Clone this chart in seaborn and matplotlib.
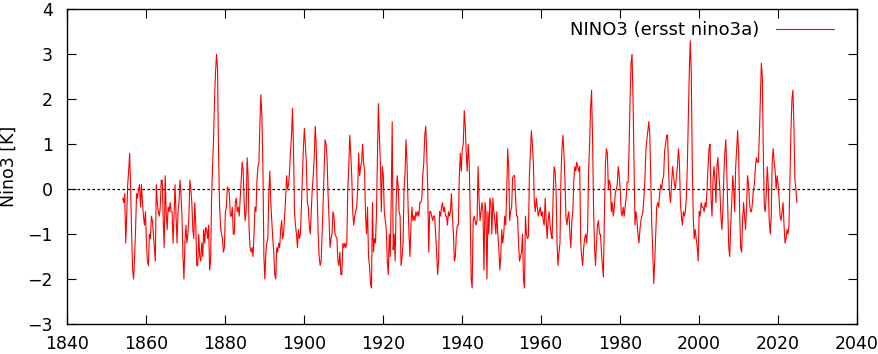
import numpy as np
import pandas as pd
import matplotlib
matplotlib.use('Agg')
import matplotlib.pyplot as plt
import seaborn as sns

# NINO3 anomaly [K], 4 values per year, starting 1854
v1850s = [-0.2, -0.3, -0.1, -1.2,   -0.6, 0.1, 0.4, 0.8,   0.0, -1.0, -1.8, -2.0,
          -1.5, -0.9, -0.1, -0.2,   0.0, 0.1, -0.4, 0.1,   -0.3, -0.6, -0.8, -0.5]
v1860s = [-1.2, -1.6, -1.7, -1.0,   -1.1, -0.6, -0.7, -1.0,   -1.3, -1.6, 0.1, -0.3,
          -0.5, -0.6, -0.4, 0.2,    0.2, -0.7, -1.3, 0.3,     -0.5, -0.9, -0.4, -0.5,
          -0.3, -0.5, -0.5, -1.2,   -0.6, 0.1, -0.6, -1.2,    -0.5, -0.3, 0.2, -0.1,
          -0.6, -1.5, -2.0, -1.2]
v1870s = [-0.8, -1.2, -1.0, -0.6,   0.2, 0.0, -0.3, -0.9,     -1.1, -0.3, -0.8, -1.7,
          -1.7, -1.0, -1.5, -1.6,   -1.2, -1.5, -0.9, -1.2,   -0.85, -0.9, -1.1, -0.8,
          -1.8, -1.6, -0.2, 0.5,    1.1, 2.0, 2.6, 3.0,       2.7, 0.9, -0.3, -0.8,
          -1.0, -1.1, -1.4, -1.3]
v1880s = [-0.5, -0.4, 0.05, 0.0,    -0.1, -0.6, -0.6, -0.4,   -1.0, -1.0, -0.3, -0.2,
          -0.5, -0.4, -0.6, -0.2,   0.2, 0.6, 0.4, -0.3,      -0.7, -0.5, 0.7, 0.3,
          -0.9, -1.3, -1.4, -1.3,   -1.5, -1.0, -0.4, -0.5,   0.2, 0.5, 0.6, 1.5,
          2.1, 1.6, 0.5, -1.5]
v1890s = [-2.0, -1.4, -1.2, -1.1,   -0.1, 0.4, -0.3, -0.7,    -1.1, -1.4, -1.9, -2.0,
          -1.3, -1.4, -1.2, -1.3,   -0.9, -0.7, -1.1, -1.0,   -0.6, -0.2, 0.3, 0.0,
          0.1, 0.4, 0.85, 1.2,      1.8, 0.9, -0.5, -0.8,     -1.0, -1.3, -0.9, -1.1,
          -1.0, -0.4, 0.3, 0.9]
v1900s = [1.35, 1.0, 0.6, -0.3,     -0.4, -0.8, -1.0, -0.5,   0.0, 0.3, 0.7, 1.4,
          1.0, -0.1, -1.0, -1.5,    -1.7, -1.6, -1.0, -0.3,   0.4, 1.1, 1.0, 0.7,
          -0.1, -0.65, -1.3, -1.1,  -1.0, -0.5, -0.6, -1.0,   -1.05, -1.1, -1.6, -1.7,
          -1.4, -1.9, -1.9, -1.2]
v1910s = [-1.3, -1.2, -1.3, -1.2,   0.0, 0.5, 1.2, 0.8,       0.3, -0.5, -0.8, -0.6,
          -0.5, -0.4, 0.0, 0.8,     0.3, 0.5, 0.6, 1.0,       0.6, 0.4, -0.6, -1.0,
          -0.4, -1.5, -1.7, -2.1,   -2.2, -0.3, -1.4, -1.1,   -1.2, -0.6, 0.6, 1.9,
          1.2, 0.6, -0.5, 0.5]
v1920s = [0.3, -0.5, -0.7, -0.9,    -1.6, -1.9, -1.0, -1.5,   -0.2, 1.5, -1.35, -1.0,
          -1.6, -0.3, 0.3, 0.1,     -0.5, -0.6, -1.7, -1.5,   -1.2, 0.0, 0.35, 1.1,
          0.6, -0.3, -1.0, -1.5,    -0.8, -0.4, -0.7, -0.6,   -0.7, -0.5, -0.6, -0.5,
          -0.6, -0.3, -0.3, -0.2]
v1930s = [0.3, 0.6, 1.2, 1.4,       0.8, 0.0, -1.4, -0.5,     -0.5, -0.6, -0.7, -0.6,
          -0.6, -1.0, -1.4, -1.9,   -1.6, -0.5, -0.6, -0.4,   -0.3, -0.5, -0.4, -0.6,
          -0.6, -0.8, -0.5, -0.6,   -0.5, -0.1, -0.6, -1.0,   -1.6, -1.5, -1.0, -0.8,
          -0.8, 0.27, 0.8, 0.4]
v1940s = [0.9, 1.0, 1.75, 1.4,      0.8, 0.4, 1.0, 0.6,       -0.5, -2.0, -2.2, -0.7,
          -0.6, -0.7, -0.8, -0.7,   0.5, -0.2, -0.7, -0.5,    -0.3, -0.5, -1.8, -0.3,
          -0.5, -2.0, -0.5, -1.0,   -0.2, -0.3, -1.0, -0.2,   -0.5, -0.7, -1.0, -0.5,
          -1.0, -1.3, -1.8, -1.5]
v1950s = [-0.9, -1.2, -1.0, -0.6,   -0.8, -0.1, 0.9, 0.5,     -0.7, -0.5, -0.4, 0.25,
          0.3, 0.3, -0.2, -0.6,     -0.6, -1.2, -1.6, -1.5,   -1.4, -1.0, -2.0, -2.2,
          -0.6, -1.0, -1.1, -1.05,  0.3, 0.8, 1.3, 1.0,       0.6, -0.3, -0.5, -0.2,
          -0.4, -0.6, -0.5, -0.4]
v1960s = [-0.6, -0.5, -0.7, -0.8,   -0.2, -0.7, -1.1, -0.7,   -0.5, -0.8, -1.0, -1.1,
          -0.2, 0.5, 0.4, 0.0,      -1.2, -1.7, -1.4, -1.2,   0.3, 0.9, 1.2, 0.8,
          0.2, -0.6, -0.8, -0.6,    -0.5, -1.0, -1.3, -0.7,   -0.5, 0.2, 0.5, 0.4,
          0.6, 0.5, 0.4, 0.5]
v1970s = [-1.2, -1.5, -1.7, -1.3,   -1.1, -1.0, -1.2, -0.9,   0.4, 1.0, 1.8, 2.2,
          1.1, -0.4, -1.3, -1.7,    -1.2, -0.8, -0.7, -1.0,   -1.0, -1.4, -1.7, -1.95,
          -0.6, 0.55, 0.9, 0.8,     0.0, 0.2, 0.1, -0.5,      -0.3, -0.6, -0.4, -0.1,
          0.0, 0.1, 0.5, 0.3]
v1980s = [0.0, -0.5, -0.6, -0.4,    -0.6, -0.4, -0.2, 0.15,   0.15, 0.9, 2.0, 2.8,
          3.0, 2.0, 0.6, -0.8,      -0.5, -0.7, -1.0, -1.2,   -0.9, -0.7, -0.6, -0.5,
          -0.2, 0.2, 0.85, 1.1,     1.3, 1.5, 1.2, 0.2,       -0.8, -1.4, -2.1, -1.6,
          -1.0, -0.4, -0.3, -0.4]
v1990s = [-0.1, 0.1, 0.0, 0.2,      0.3, 0.85, 1.0, 1.2,      1.2, 0.4, -0.1, -0.3,
          0.1, 0.5, 0.3, 0.1,       0.0, 0.3, 0.5, 0.9,       0.6, -0.3, -0.6, -0.8,
          -0.5, -0.6, -0.5, -0.2,   0.5, 1.6, 2.6, 3.3,       2.6, 0.6, -0.6, -1.1,
          -0.9, -1.1, -1.3, -1.6]
v2000s = [-0.5, -0.6, -0.3, -0.4,   -0.4, -0.5, -0.3, -0.4,   0.0, 0.5, 0.9, 1.0,
          -0.2, -0.6, 0.2, 0.5,     0.2, -0.3, 0.5, 0.7,      0.3, 0.0, -0.6, -0.9,
          -0.5, 0.3, 0.8, 1.1,      0.4, -0.5, -1.3, -1.5,    -0.8, -0.3, 0.3, 0.0,
          -0.5, 0.5, 0.9, 1.3]
v2010s = [0.8, -0.5, -1.3, -1.4,    -0.7, -0.3, -0.6, -0.9,   -0.4, 0.3, 0.1, -0.3,
          -0.5, -0.5, -0.3, 0.0,    0.1, 0.5, 0.7, 0.6,       0.6, 1.2, 2.0, 2.8,
          2.5, 0.8, -0.4, -0.5,     -0.1, 0.5, 0.1, -0.7,     -1.0, -0.6, 0.6, 0.9,
          0.6, 0.4, 0.0, 0.3]
v2020s = [0.1, -0.2, -0.6, -0.7,    -0.5, -0.3, -0.8, -1.2,   -1.1, -0.9, -1.0, -0.8,
          0.3, 1.3, 2.0, 2.2,       1.4, 0.2, 0.0, -0.3]

first_year = 1854
nino3 = np.concatenate([v1850s, v1860s, v1870s, v1880s, v1890s, v1900s, v1910s,
                        v1920s, v1930s, v1940s, v1950s, v1960s, v1970s, v1980s,
                        v1990s, v2000s, v2010s, v2020s])
year = first_year + (np.arange(len(nino3)) + 0.5) / 4
df = pd.DataFrame({'year': year, 'nino3': nino3})

sns.set_style('ticks')
plt.rcParams['font.family'] = ['DejaVu Sans']
plt.rcParams['text.color'] = 'black'
plt.rcParams['axes.labelcolor'] = 'black'

fig = plt.figure(figsize=(8.79, 3.54), dpi=100)
ax = fig.add_axes([0.0762, 0.0847, 0.8983, 0.889])

sns.lineplot(data=df, x='year', y='nino3', color='red', lw=0.8,
             label='NINO3 (ersst nino3a)', ax=ax)
ax.axhline(0, color='black', lw=0.9, ls=(0, (2, 2)), zorder=1)

ax.set_xlim(1840, 2040)
ax.set_ylim(-3, 4)
ax.set_xticks(range(1840, 2041, 20))
ax.set_yticks(range(-3, 5))
ax.tick_params(direction='in', length=6.5, width=0.8, top=True, right=True,
               labelsize=12.5, colors='black')
ax.tick_params(axis='y', pad=10)
ax.tick_params(axis='x', pad=8)
for s in ax.spines.values():
    s.set_color('black')
    s.set_linewidth(1.0)

ax.set_xlabel('')
ax.set_ylabel('Nino3 [K]', fontsize=12.5, color='black')
ax.yaxis.set_label_coords(-0.062, 0.5)

leg = ax.legend(loc='upper right', bbox_to_anchor=(0.971, 0.963), frameon=False,
                markerfirst=False, fontsize=13, handlelength=3.2, handletextpad=0.9,
                borderaxespad=0, borderpad=0)
for txt in leg.get_texts():
    txt.set_color('black')

fig.savefig('out.png', dpi=100)
